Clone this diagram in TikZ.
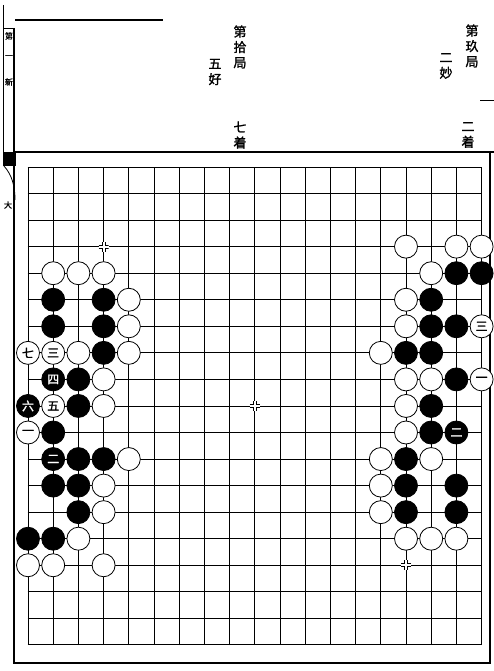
\documentclass[tikz,border=0pt]{standalone}
\usepackage{fontspec}
\newfontfamily\cjk[FakeBold=1.5]{Noto Sans CJK TC}
\tikzset{
  wstone/.style={circle,draw=black,fill=white,line width=0.8pt,minimum size=23pt,inner sep=0pt,font=\cjk\fontsize{12}{12}\selectfont},
  bstone/.style={circle,draw=black,fill=black,text=white,line width=0.8pt,minimum size=23pt,inner sep=0pt,font=\cjk\fontsize{12}{12}\selectfont},
  headtext/.style={font=\cjk\fontsize{13}{15.5}\selectfont,align=center,inner sep=0pt},
  margintext/.style={font=\cjk\fontsize{8}{8}\selectfont,inner sep=0pt},
  hoshi/.style={rectangle,fill=white,minimum size=10pt,inner sep=0pt,
    path picture={
      \draw [line width=0.9pt] ([shift={(-5pt,1.5pt)}]path picture bounding box.center) -- ++(3.5pt,0) -- ++(0,3.5pt);
      \draw [line width=0.9pt] ([shift={(5pt,1.5pt)}]path picture bounding box.center) -- ++(-3.5pt,0) -- ++(0,3.5pt);
      \draw [line width=0.9pt] ([shift={(-5pt,-1.5pt)}]path picture bounding box.center) -- ++(3.5pt,0) -- ++(0,-3.5pt);
      \draw [line width=0.9pt] ([shift={(5pt,-1.5pt)}]path picture bounding box.center) -- ++(-3.5pt,0) -- ++(0,-3.5pt);
    }},
}

\begin{document}
\begin{tikzpicture}[x=1pt,y=-1pt]
%set diagram left start at 0, and has height of 671
\useasboundingbox (0,0) rectangle (494,671);

%Shape: Page margin
\draw [line width=0.8pt] (3,5) -- (3,152) ;
\draw [line width=1.6pt] (15,20) -- (163,20) ;
\draw [line width=0.8pt] (3,28) -- (15,28) ;
\fill (3,152) rectangle (16,166) ;
\draw [line width=0.8pt] (4,166) .. controls (12,175) and (15,186) .. (15,200) ;
\draw [line width=0.8pt] (480,100) -- (494,100) ;

%Shape: Board frame
\draw [line width=2.4pt] (14,28) -- (14,664) ;
\draw [line width=2.4pt] (13,152) -- (494,152) ;
\draw [line width=2.2pt] (13,663) -- (490,663) ;
\draw [line width=2.2pt] (490,151) -- (490,664) ;

% Text Node
\node [margintext] (mA) at (9,36) {第};
% Text Node
\node [margintext] (mB) at (9,57) {一};
% Text Node
\node [margintext] (mC) at (9,82) {新};
% Text Node
\node [margintext] (mD) at (8,205) {大};

% Text Node
\node [headtext] (title10) at (240,47) {第\\拾\\局};
% Text Node
\node [headtext] (good10) at (215,72) {五\\好};
% Text Node
\node [headtext] (moves10) at (240,135) {七\\着};
% Text Node
\node [headtext] (title9) at (472,46) {第\\玖\\局};
% Text Node
\node [headtext] (good9) at (446,66) {二\\妙};
% Text Node
\node [headtext] (moves9) at (468,135) {二\\着};

\begin{scope}[shift={(28,167)},x=25.2pt,y=-26.55pt]
%Shape: Grid
\draw [line width=0.9pt,xstep=25.2pt,ystep=26.55pt] (-0.01,18.01) grid (18.01,-0.01) ;

%Shape: Star points
\node [hoshi] (star1) at (3,3) {};
\node [hoshi] (star2) at (9,9) {};
\node [hoshi] (star3) at (15,15) {};

%Shape: White stones, left side
\node [wstone] (w1-4) at (1,4) {};
\node [wstone] (w2-4) at (2,4) {};
\node [wstone] (w3-4) at (3,4) {};
\node [wstone] (w4-5) at (4,5) {};
\node [wstone] (w4-6) at (4,6) {};
\node [wstone] (w2-7) at (2,7) {};
\node [wstone] (w4-7) at (4,7) {};
\node [wstone] (w3-8) at (3,8) {};
\node [wstone] (w3-9) at (3,9) {};
\node [wstone] (w4-11) at (4,11) {};
\node [wstone] (w3-12) at (3,12) {};
\node [wstone] (w3-13) at (3,13) {};
\node [wstone] (w2-14) at (2,14) {};
\node [wstone] (w0-15) at (0,15) {};
\node [wstone] (w1-15) at (1,15) {};
\node [wstone] (w3-15) at (3,15) {};

%Shape: Black stones, left side
\node [bstone] (b1-5) at (1,5) {};
\node [bstone] (b3-5) at (3,5) {};
\node [bstone] (b1-6) at (1,6) {};
\node [bstone] (b3-6) at (3,6) {};
\node [bstone] (b3-7) at (3,7) {};
\node [bstone] (b2-8) at (2,8) {};
\node [bstone] (b2-9) at (2,9) {};
\node [bstone] (b1-10) at (1,10) {};
\node [bstone] (b2-11) at (2,11) {};
\node [bstone] (b3-11) at (3,11) {};
\node [bstone] (b1-12) at (1,12) {};
\node [bstone] (b2-12) at (2,12) {};
\node [bstone] (b2-13) at (2,13) {};
\node [bstone] (b0-14) at (0,14) {};
\node [bstone] (b1-14) at (1,14) {};

%Shape: Numbered moves, left side
\node [wstone] (mv1L) at (0,10) {一};
\node [bstone] (mv2L) at (1,11) {二};
\node [wstone] (mv3L) at (1,7) {三};
\node [bstone] (mv4L) at (1,8) {四};
\node [wstone] (mv5L) at (1,9) {五};
\node [bstone] (mv6L) at (0,9) {六};
\node [wstone] (mv7L) at (0,7) {七};

%Shape: White stones, right side
\node [wstone] (w15-3) at (15,3) {};
\node [wstone] (w17-3) at (17,3) {};
\node [wstone] (w18-3) at (18,3) {};
\node [wstone] (w16-4) at (16,4) {};
\node [wstone] (w15-5) at (15,5) {};
\node [wstone] (w15-6) at (15,6) {};
\node [wstone] (w14-7) at (14,7) {};
\node [wstone] (w15-8) at (15,8) {};
\node [wstone] (w16-8) at (16,8) {};
\node [wstone] (w15-9) at (15,9) {};
\node [wstone] (w15-10) at (15,10) {};
\node [wstone] (w14-11) at (14,11) {};
\node [wstone] (w16-11) at (16,11) {};
\node [wstone] (w14-12) at (14,12) {};
\node [wstone] (w14-13) at (14,13) {};
\node [wstone] (w15-14) at (15,14) {};
\node [wstone] (w16-14) at (16,14) {};
\node [wstone] (w17-14) at (17,14) {};

%Shape: Black stones, right side
\node [bstone] (b17-4) at (17,4) {};
\node [bstone] (b18-4) at (18,4) {};
\node [bstone] (b16-5) at (16,5) {};
\node [bstone] (b16-6) at (16,6) {};
\node [bstone] (b17-6) at (17,6) {};
\node [bstone] (b15-7) at (15,7) {};
\node [bstone] (b16-7) at (16,7) {};
\node [bstone] (b17-8) at (17,8) {};
\node [bstone] (b16-9) at (16,9) {};
\node [bstone] (b16-10) at (16,10) {};
\node [bstone] (b15-11) at (15,11) {};
\node [bstone] (b15-12) at (15,12) {};
\node [bstone] (b17-12) at (17,12) {};
\node [bstone] (b15-13) at (15,13) {};
\node [bstone] (b17-13) at (17,13) {};

%Shape: Numbered moves, right side
\node [wstone] (mv1R) at (18,8) {一};
\node [bstone] (mv2R) at (17,10) {二};
\node [wstone] (mv3R) at (18,6) {三};
\end{scope}

\end{tikzpicture}
\end{document}
